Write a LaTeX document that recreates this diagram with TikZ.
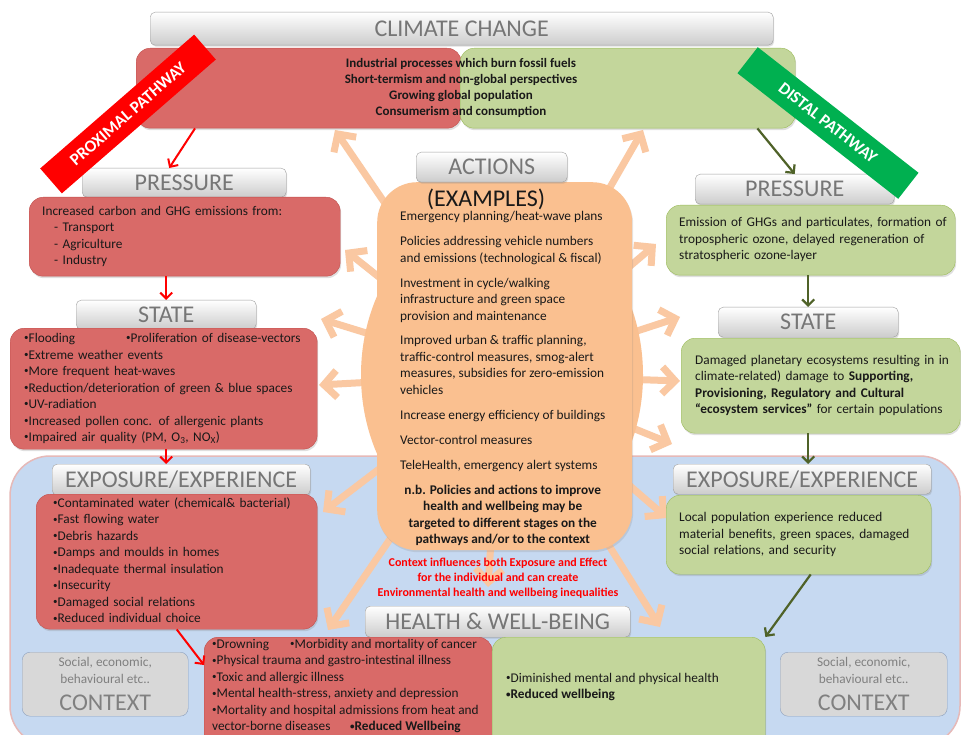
\documentclass[tikz,border=0pt]{standalone}
\usepackage{fontspec}
\setmainfont{Carlito}
\usepackage{tikz}
\usetikzlibrary{positioning,arrows.meta,shadows}
\definecolor{pred}{RGB}{217,106,104}
\definecolor{predline}{RGB}{192,80,77}
\definecolor{pgreen}{RGB}{195,214,155}
\definecolor{pgreenline}{RGB}{155,187,89}
\definecolor{acto}{RGB}{250,192,144}
\definecolor{rayo}{RGB}{250,200,162}
\definecolor{expblue}{RGB}{198,217,241}
\definecolor{exppink}{RGB}{230,185,184}
\definecolor{ctxgray}{RGB}{216,216,216}
\definecolor{ctxline}{RGB}{140,160,190}
\definecolor{lbltxt}{RGB}{118,118,118}
\definecolor{dgreen}{RGB}{79,98,40}
\definecolor{bangreen}{RGB}{0,176,80}
\newcommand{\rows}[1]{\begin{tabular}{@{}l@{}}#1\end{tabular}}
\newcommand{\bu}{\raisebox{.25ex}{\fontsize{9}{9}\selectfont•}}
\tikzset{
  lbl/.style = {anchor=north west, rounded corners=5pt, draw=gray!75,
    top color=white, bottom color=gray!40, text=lbltxt, inner sep=0pt,
    font=\fontsize{24}{24}\selectfont,
    drop shadow={opacity=.25, shadow xshift=1pt, shadow yshift=-1.5pt}},
  cbox/.style = {anchor=north west, rounded corners=14pt, align=left,
    inner ysep=0pt, text=black!90, font=\fontsize{13.3}{16.5}\selectfont,
    drop shadow={opacity=.25, shadow xshift=1pt, shadow yshift=-2pt}},
  pbox/.style = {cbox, draw=predline, fill=pred},% proximal
  gbox/.style = {cbox, draw=pgreenline, fill=pgreen},% distal
  ctxbox/.style = {anchor=north west, rounded corners=8pt, draw=ctxline,
    fill=ctxgray, text=gray, align=center, inner sep=0pt,
    font=\fontsize{13.3}{16.5}\selectfont},
  celltxt/.style = {anchor=north west, inner sep=0pt, align=left,
    text=black!90, font=\fontsize{13.3}{16.5}\selectfont},
  banner/.style = {text=white, font=\fontsize{17}{17}\selectfont\bfseries,
    inner sep=0pt, minimum width=204pt, minimum height=33pt},
  ray/.style = {draw=rayo, line width=7pt, -{Straight Barb[length=13pt,width=27pt]}},
  parr/.style = {draw=red, line width=2pt, -{Straight Barb[length=6pt,width=12pt]}},
  garr/.style = {draw=dgreen, line width=2.2pt, -{Straight Barb[length=6pt,width=12pt]}}
}

\begin{document}
\begin{tikzpicture}[x=1pt,y=-1pt]
\useasboundingbox (0,0) rectangle (961,735);
\clip (0,0) rectangle (961,735);
\fill[white] (0,0) rectangle (961,735);
% exposure / health area
\draw[draw=exppink, line width=1.5pt, fill=expblue, rounded corners=40pt]
  (10,456) rectangle (960,746);

% actions, with rays
\coordinate (hub) at (502,375);
\foreach \i/\x/\y in {1/335/130, 2/643/130, 3/345/250, 4/321/319, 5/319/385,
    6/323/512, 7/328/630, 8/488/587, 9/660/627, 10/656/244, 11/680/317,
    12/680/381, 13/672/444, 14/667/518}
  \coordinate (r\i) at (\x,\y);
\foreach \i in {1,...,14}
  \draw[ray] (hub) -- (r\i);
\fill[acto] (hub) ellipse [x radius=141pt, y radius=170pt];
\node[anchor=north west, fill=acto, rounded corners=40pt, inner sep=0pt,
  minimum width=255pt, minimum height=368pt,
  drop shadow={opacity=.2, shadow xshift=1pt, shadow yshift=-2pt}] (act) at (377,182) {};
\node[lbl, minimum width=151pt, minimum height=30pt] (actlbl) at (416,152) {ACTIONS};
\node[font=\fontsize{24}{24}\selectfont, text=black!90, inner sep=0pt] (exlbl) at (486,199) {(EXAMPLES)};
\node[celltxt] (acttxt) at (400,209) {\begin{tabular}{@{}l@{}}
Emergency planning/heat-wave plans\\[8.4pt]
Policies addressing vehicle numbers\\
and emissions (technological \& fiscal)\\[8.4pt]
Investment in cycle/walking\\
infrastructure and green space\\
provision and maintenance\\[8.4pt]
Improved urban \& traffic  planning,\\
traffic-control measures, smog-alert\\
measures, subsidies for zero-emission\\
vehicles\\[8.4pt]
Increase energy efficiency of buildings\\[8.4pt]
Vector-control measures\\[8.4pt]
TeleHealth, emergency alert systems\\[8.4pt]
\multicolumn{1}{@{}c@{}}{\bfseries n.b. Policies and actions to improve}\\
\multicolumn{1}{@{}c@{}}{\bfseries health and wellbeing may be}\\
\multicolumn{1}{@{}c@{}}{\bfseries targeted to different stages on the}\\
\multicolumn{1}{@{}c@{}}{\bfseries pathways and/or to  the context}
\end{tabular}};
\node[text=red, align=center, inner sep=0pt, font=\fontsize{12}{15}\selectfont\bfseries]
  (ctxnote) at (498,578) {Context influences both Exposure and Effect\\
  for the individual and can create\\Environmental health and wellbeing inequalities};

% climate change
\node[lbl, minimum width=623pt, minimum height=33pt] (climate) at (150,12) {CLIMATE CHANGE};
\node[pbox, inner sep=0pt, minimum width=325pt, minimum height=80pt] (ptop) at (136,48) {};
\node[gbox, inner sep=0pt, minimum width=335pt, minimum height=80pt] (gtop) at (460,48) {};
\node[align=center, inner sep=0pt, text=black!90, font=\fontsize{13}{16}\selectfont\bfseries]
  (toptxt) at (461,88) {Industrial processes which burn fossil fuels\\
  Short-termism and non-global perspectives\\Growing global population\\
  Consumerism and consumption};

% proximal pathway
\node[lbl, minimum width=204pt, minimum height=29pt] (ppresslbl) at (82,168) {PRESSURE};
\node[pbox, minimum width=311pt, minimum height=79pt, text width=285pt, inner xsep=13pt]
  (ppress) at (29,197) {\rows{Increased carbon and GHG emissions from:\\
  \hspace*{12pt}- Transport\\ \hspace*{12pt}- Agriculture\\ \hspace*{12pt}- Industry}};
\node[lbl, minimum width=180pt, minimum height=29pt] (pstatelbl) at (76,300) {STATE};
\node[pbox, minimum width=307pt, minimum height=121pt, text width=279pt, inner xsep=14pt]
  (pstate) at (10,328) {\rows{\makebox[102pt][l]{\bu Flooding}\bu Proliferation of disease-vectors\\
  \bu Extreme weather events\\ \bu More frequent heat-waves\\
  \bu Reduction/deterioration of green \& blue spaces\\ \bu UV-radiation\\
  \bu Increased pollen conc. of allergenic plants\\
  \bu Impaired air quality (PM, O\textsubscript{3}, NO\textsubscript{X})}};
\node[lbl, minimum width=258pt, minimum height=31pt] (pexplbl) at (52,464) {EXPOSURE/EXPERIENCE};
\node[pbox, minimum width=281pt, minimum height=135pt, text width=247pt, inner xsep=17pt]
  (pexp) at (36,494) {\rows{\bu Contaminated water (chemical\&  bacterial)\\ \bu Fast flowing water\\
  \bu Debris hazards\\ \bu Damps and moulds in homes\\ \bu Inadequate thermal insulation\\
  \bu Insecurity\\ \bu Damaged social relations\\ \bu Reduced individual choice}};

% health
\node[lbl, minimum width=265pt, minimum height=31pt] (healthlbl) at (365,606) {HEALTH \& WELL-BEING};
\node[pbox, inner sep=0pt, minimum width=288pt, minimum height=120pt] (phealth) at (204,637) {};
\node[gbox, inner sep=0pt, minimum width=273pt, minimum height=120pt] (ghealth) at (492,637) {};
\node[celltxt] (phtxt) at (212,636.6) {\rows{\makebox[78pt][l]{\bu Drowning}\bu Morbidity and mortality of cancer\\
  \bu Physical trauma and gastro-intestinal illness\\ \bu Toxic and allergic illness\\
  \bu Mental health-stress, anxiety and depression\\
  \bu Mortality and hospital admissions from heat and\\
  \makebox[138pt][l]{vector-borne diseases}\textbf{\bu Reduced Wellbeing}}};
\node[celltxt] (ghtxt) at (506,670.6) {\rows{\bu Diminished mental and physical health\\
  \textbf{\bu Reduced wellbeing}}};

% context
\node[ctxbox, minimum width=166pt, minimum height=64pt] (ctxl) at (22,652)
  {Social, economic,\\behavioural etc..\\[11pt]{\fontsize{24}{22}\selectfont CONTEXT}};
\node[ctxbox, minimum width=167pt, minimum height=64pt] (ctxr) at (780,652)
  {Social, economic,\\behavioural etc..\\[11pt]{\fontsize{24}{22}\selectfont CONTEXT}};

% distal pathway
\node[lbl, minimum width=199pt, minimum height=30pt] (gpresslbl) at (695,174) {PRESSURE};
\node[gbox, minimum width=289pt, minimum height=70pt, text width=263pt, inner xsep=13pt]
  (gpress) at (666,205) {\rows{Emission of GHGs and particulates, formation of\\
  tropospheric ozone, delayed regeneration of\\ stratospheric ozone-layer}};
\node[lbl, minimum width=180pt, minimum height=30pt] (gstatelbl) at (718,307) {STATE};
\node[gbox, minimum width=279pt, minimum height=95pt, text width=251pt, inner xsep=14pt]
  (gstate) at (681,338) {\rows{Damaged planetary ecosystems resulting in in\\
  climate-related) damage to \textbf{Supporting,}\\
  \textbf{Provisioning,  Regulatory and Cultural}\\
  \textbf{“ecosystem services”} for certain populations}};
\node[lbl, minimum width=258pt, minimum height=30pt] (gexplbl) at (673,464) {EXPOSURE/EXPERIENCE};
\node[gbox, minimum width=265pt, minimum height=79pt, text width=239pt, inner xsep=13pt]
  (gexp) at (666,495) {\rows{Local population experience reduced\\
  material benefits, green spaces, damaged\\ social relations, and  security}};

% connectors
\draw[parr] ([xshift=59pt]ptop.south west) -- ([xshift=-15pt]ppresslbl.north);
\draw[parr] (pstatelbl.north |- ppress.south) -- (pstatelbl.north);
\draw[parr] (pstate.south -| pstatelbl.north) -- (pexplbl.north -| pstatelbl.north);
\draw[parr] (pexp.south) -- ([yshift=-28pt]phealth.north west);
\draw[garr] ([xshift=-38pt]gtop.south east) -- (gpresslbl.north);
\draw[garr] (gpress.south -| gstatelbl.north) -- (gstatelbl.north);
\draw[garr] (gstate.south -| gstatelbl.north) -- (gexplbl.north -| gstatelbl.north);
\draw[garr] ([xshift=12pt]gexp.south) -- (ghealth.north east);

% pathway banners
\node[banner, fill=red, rotate=41] (proxban) at (128,114) {PROXIMAL PATHWAY};
\node[banner, fill=bangreen, rotate=-38] (distban) at (828,123) {DISTAL PATHWAY};
\end{tikzpicture}
\end{document}
